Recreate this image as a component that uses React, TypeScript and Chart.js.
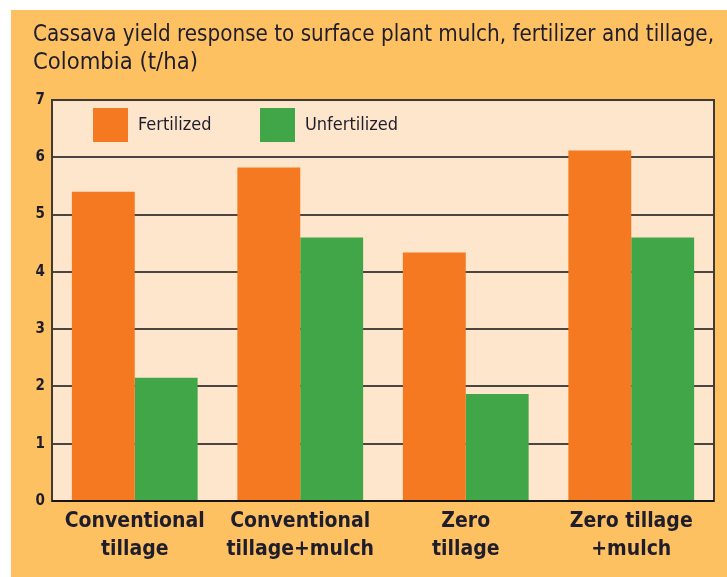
import React, { useEffect, useRef } from "react";
import { Chart, registerables } from "chart.js";

Chart.register(...registerables);

const titleLines = [
  "Cassava yield response to surface plant mulch, fertilizer and tillage,",
  "Colombia (t/ha)",
];
const categories = [
  ["Conventional", "tillage"],
  ["Conventional", "tillage+mulch"],
  ["Zero", "tillage"],
  ["Zero tillage", "+mulch"],
];
const seriesNames = ["Fertilized", "Unfertilized"];
const fertilized = [5.4, 5.82, 4.34, 6.12];
const unfertilized = [2.15, 4.6, 1.87, 4.6];
const yTicks = [0, 1, 2, 3, 4, 5, 6, 7];

const FONT = "'Liberation Sans Narrow', 'DejaVu Sans Condensed', 'Roboto Condensed', sans-serif";
const ORANGE = "#F47920";
const GREEN = "#40A647";
const TEXT = "#1f1d2c";

const bgPlugin = {
  id: "bgPlugin",
  beforeDraw(chart: any) {
    const { ctx, chartArea } = chart;
    ctx.save();
    ctx.fillStyle = "#ffffff";
    ctx.fillRect(0, 0, chart.width, chart.height);
    ctx.fillStyle = "#FDC162";
    ctx.fillRect(11, 10, chart.width - 11, chart.height - 10);
    ctx.fillStyle = "#FEE6CD";
    ctx.fillRect(chartArea.left, chartArea.top, chartArea.right - chartArea.left, chartArea.bottom - chartArea.top);
    ctx.restore();
  },
  afterDatasetsDraw(chart: any) {
    const { ctx, chartArea } = chart;
    ctx.save();
    ctx.strokeStyle = "#3e3a38";
    ctx.lineWidth = 2;
    ctx.strokeRect(chartArea.left, chartArea.top, chartArea.right - chartArea.left, chartArea.bottom - chartArea.top);
    ctx.strokeStyle = "#151515";
    ctx.beginPath();
    ctx.moveTo(chartArea.left, chartArea.bottom);
    ctx.lineTo(chartArea.right, chartArea.bottom);
    ctx.stroke();
    ctx.restore();
  },
  afterDraw(chart: any) {
    const { ctx, chartArea } = chart;
    const ds = chart.data.datasets;
    ctx.save();
    ctx.font = `18px ${FONT}`;
    ctx.textBaseline = "middle";
    ctx.textAlign = "left";
    const starts = [chartArea.left + 41, chartArea.left + 208];
    const top = chartArea.top + 8;
    ds.forEach((d: any, i: number) => {
      const x = starts[i];
      ctx.fillStyle = d.backgroundColor;
      ctx.fillRect(x, top, 35, 34);
      ctx.fillStyle = TEXT;
      ctx.fillText(d.label, x + 45, top + 17);
    });
    ctx.restore();
  },
};

export default function App() {
  const ref = useRef<HTMLCanvasElement | null>(null);
  useEffect(() => {
    if (!ref.current) return;
    const chart = new Chart(ref.current, {
      type: "bar",
      data: {
        labels: categories,
        datasets: [
          { label: seriesNames[0], data: fertilized, backgroundColor: ORANGE, borderWidth: 0 },
          { label: seriesNames[1], data: unfertilized, backgroundColor: GREEN, borderWidth: 0 },
        ],
      },
      options: {
        responsive: false,
        animation: false,
        layout: { padding: { left: 33, right: 13, top: 0, bottom: 0 } },
        datasets: { bar: { categoryPercentage: 0.76, barPercentage: 1.0 } },
        plugins: {
          legend: { display: false },
          tooltip: { enabled: false },
          title: {
            display: true,
            text: titleLines,
            align: "start",
            color: TEXT,
            font: { family: FONT, size: 23.6, weight: "normal", lineHeight: 1.17 },
            padding: { top: 21, bottom: 23.8 },
          },
        },
        scales: {
          x: {
            grid: { display: false, drawTicks: false },
            border: { display: true, color: "#222", width: 2 },
            ticks: {
              color: TEXT,
              font: { family: FONT, size: 21, weight: "bold", lineHeight: 1.32 },
              padding: 7,
              maxRotation: 0,
              autoSkip: false,
            },
            afterFit: (s: any) => { s.height = 76; },
          },
          y: {
            min: 0,
            max: 7,
            afterBuildTicks: (s: any) => { s.ticks = yTicks.map((v) => ({ value: v })); },
            grid: { color: "#4a4540", lineWidth: 2, drawTicks: false },
            border: { display: true, color: "#3e3a38", width: 2 },
            ticks: {
              color: TEXT,
              font: { family: FONT, size: 15, weight: "bold" },
              padding: 7,
            },
            afterFit: (s: any) => { s.width = 19; },
          },
        },
      },
      plugins: [bgPlugin],
    });
    return () => chart.destroy();
  }, []);
  return (
    <div style={{ position: "fixed", left: 0, top: 0, width: 727, height: 577 }}>
      <canvas ref={ref} width={727} height={577} />
    </div>
  );
}
